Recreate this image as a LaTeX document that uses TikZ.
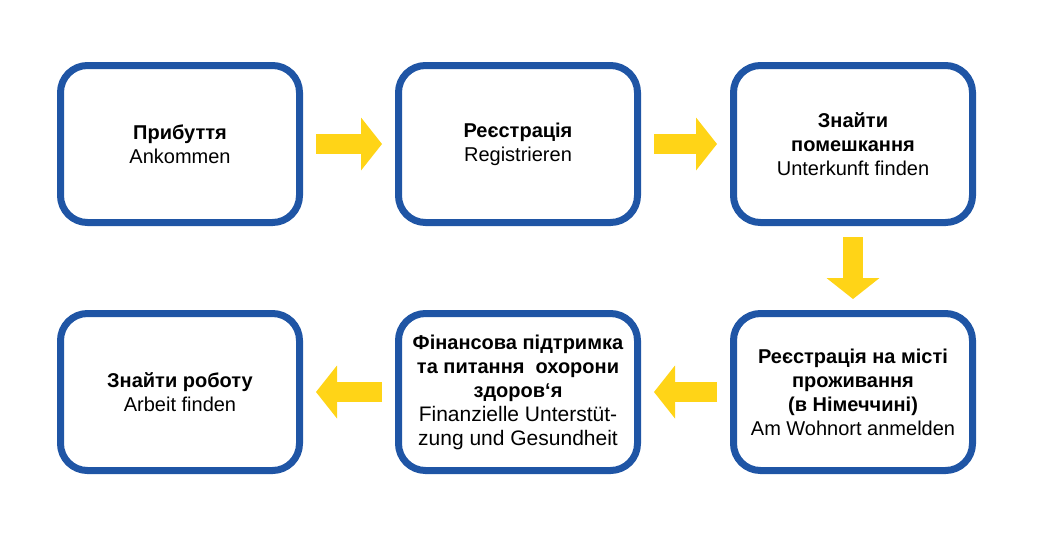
\documentclass[tikz,border=0pt]{standalone}
\usepackage{fontspec}
\setmainfont{Liberation Sans}
\usetikzlibrary{arrows.meta}
\definecolor{boxblue}{RGB}{31,85,165}
\definecolor{arrowyellow}{RGB}{255,212,23}
\tikzset{
	stage/.style={
		draw=boxblue,
		line width=7pt,
		rounded corners=27pt,
		minimum width=239pt,
		minimum height=157pt,
		align=center,
		font=\fontsize{20}{24}\selectfont
	},
	flow/.style={
		draw=arrowyellow,
		line width=20pt,
		-{Triangle[length=21pt, width=53pt, line width=0pt]},
		shorten <=13pt,
		shorten >=13pt
	}
}

\begin{document}
\begin{tikzpicture}[x=1pt, y=-1pt]
\useasboundingbox (0, 0) rectangle (1042, 550);
\node[stage] (S1) at (180, 144) {\textbf{Прибуття}\\Ankommen};
\node[stage] (S2) at (518, 144) {\textbf{Реєстрація}\\Registrieren};
\node[stage] (S3) at (853, 144) {\textbf{Знайти}\\\textbf{помешкання}\\Unterkunft finden};
\node[stage] (S4) at (180, 392) {\textbf{Знайти роботу}\\Arbeit finden};
\node[stage] (S5) at (518, 392) {\textbf{Фінансова підтримка}\\\textbf{та питання\ \ охорони}\\\textbf{здоров‘я}\\{\fontsize{21}{24}\selectfont Finanzielle Unterstüt-}\\{\fontsize{21}{24}\selectfont zung und Gesundheit}};
\node[stage] (S6) at (853, 392) {\textbf{Реєстрація на місті}\\\textbf{проживання}\\\textbf{(в Німеччині)}\\Am Wohnort anmelden};

\foreach \a/\b in {S1/S2, S2/S3, S6/S5, S5/S4} {
	\draw[flow] (\a) -- (\b);
}
\draw[flow, shorten <=11pt, shorten >=11pt] (S3) -- (S6);
\end{tikzpicture}
\end{document}
